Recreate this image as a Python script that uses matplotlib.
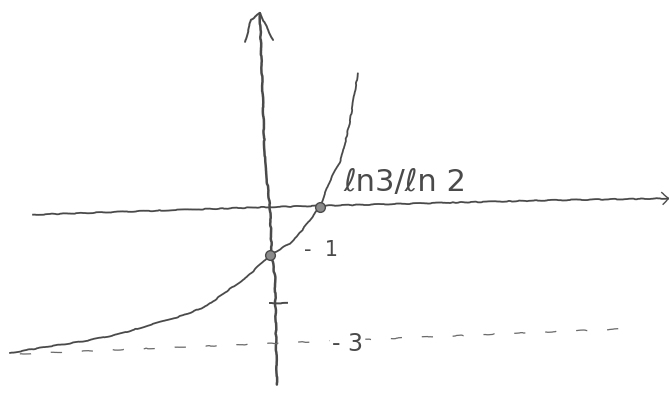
import numpy as np
import matplotlib
matplotlib.use("Agg")
import matplotlib.pyplot as plt

# sketch of y = f(x) crossing the x axis at ln3/ln2, y-intercept -1, asymptote y = -3
curve_x = [-8.25, -6.98, -5.94, -4.86, -3.81, -2.76, -2.00, -1.59, -1.17, -0.73,
           0.0, 0.63, 0.86, 1.585, 1.90, 2.22, 2.32, 2.54, 2.79]
curve_y = [-3.04, -2.90, -2.80, -2.66, -2.46, -2.26, -2.06, -1.86, -1.66, -1.46,
           -1.0, -0.76, -0.62, 0.0, 0.54, 0.94, 1.14, 1.78, 2.78]

# hand drawn axes (slightly tilted strokes)
yaxis_x = [-0.32, -0.16, 0.0, 0.06, 0.16, 0.22]
yaxis_y = [4.04, 0.94, 0.0, -1.02, -1.46, -3.70]
arrow_x = [-0.79, -0.60, -0.32, 0.10]
arrow_y = [3.44, 3.90, 4.04, 3.48]
xaxis_x = [-7.52, 0.0, 8.89, 12.67]
xaxis_y = [-0.16, 0.0, 0.14, 0.18]
xarrow_x = [12.44, 12.67, 12.48]
xarrow_y = [0.30, 0.18, 0.06]

# asymptote y = -3 (dashed stroke)
asym_x = [-7.94, 11.11]
asym_y = [-3.06, -2.54]

# marked points and labels
pts_x = [0.0, 1.585]
pts_y = [-1.0, 0.0]
tick_x = [0.0, 0.54]
tick_y = [-2.0, -2.0]
root_label = "ℓn3/ℓn 2"
root_pos = (2.32, 0.34)
one_label = "-  1"
one_pos = (1.62, -0.90)
three_label = "- 3"
three_pos = (2.45, -2.86)

pencil = "#4a4a4a"
plt.rcParams["path.sketch"] = (0.4, 40, 10)

fig = plt.figure(figsize=(6.69, 3.95), dpi=100)
ax = fig.add_axes([0, 0, 1, 1])
ax.set_xlim(-8.57, 12.67)
ax.set_ylim(-3.917, 4.3125)
ax.axis("off")

ax.plot(yaxis_x, yaxis_y, color=pencil, lw=1.8, solid_capstyle="round")
ax.plot(arrow_x, arrow_y, color=pencil, lw=1.4, solid_capstyle="round")
ax.plot(xaxis_x, xaxis_y, color=pencil, lw=1.3)
ax.plot(xarrow_x, xarrow_y, color=pencil, lw=1.0)
ax.plot(tick_x, tick_y, color=pencil, lw=1.4)
ax.plot(asym_x, asym_y, color="#6a6a6a", lw=0.9, linestyle=(0, (9, 16)))
ax.plot(curve_x, curve_y, color=pencil, lw=1.3)
ax.plot(pts_x, pts_y, "o", ms=7, mfc="#8a8a8a", mec=pencil, mew=1.0)

ax.text(*root_pos, root_label, fontsize=22, color=pencil, ha="left", va="baseline")
ax.text(*one_pos, one_label, fontsize=15, color=pencil, ha="center", va="center")
ax.text(*three_pos, three_label, fontsize=17, color=pencil, ha="center", va="center",
        bbox=dict(facecolor="white", edgecolor="none", pad=1.5))

fig.savefig("out.png", dpi=100, facecolor="white")
